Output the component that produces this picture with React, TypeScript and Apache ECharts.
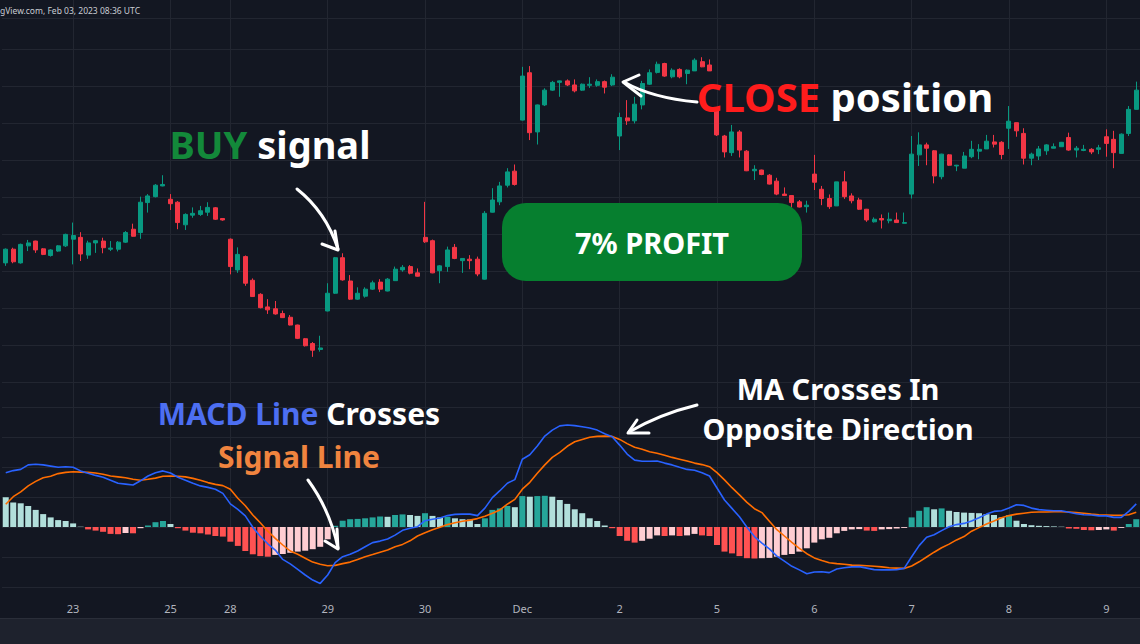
import React, { useEffect, useRef } from "react";
import * as echarts from "echarts";

// ---- time axis: trading days and 30-minute bars per day ----
const dayLabels = ["22", "23", "25", "28", "29", "30", "Dec", "2", "5", "6", "7", "8", "9"];
const barsPerDay = [9, 13, 8, 13, 13, 13, 13, 13, 13, 13, 13, 13, 5];

// ---- price candles ----
const opens = [
  68.22, 68.59, 68.22, 68.68, 68.81, 68.6, 68.42, 68.54, 68.68, 68.86, 68.91, 68.43, 68.76, 68.81, 68.59, 68.59, 68.78, 69.13, 69.04, 69.85,
  70.01, 70.3, 69.94, 69.86, 69.25, 69.51, 69.53, 69.59, 69.71, 69.42, 68.86, 68.03, 68.39, 67.75, 67.37, 67.03, 66.98, 66.85, 66.75, 66.54,
  66.17, 66.04, 65.88, 66.92, 67.4, 68.36, 67.73, 67.24, 67.32, 67.51, 67.7, 67.46, 67.74, 68.03, 68.12, 67.95, 68.91, 68.82, 68.01, 68.12,
  68.64, 68.28, 68.32, 68.32, 67.78, 69.59, 69.87, 70.32, 70.7, 72.08, 73.36, 71.76, 72.49, 72.89, 73.1, 73.14, 73.03, 72.89, 73.02, 73.02,
  73.12, 73.03, 71.65, 72.14, 72.06, 72.49, 73.05, 73.37, 73.61, 73.25, 73.45, 73.34, 73.41, 73.66, 73.57, 72.35, 71.65, 71.2, 71.76, 71.24,
  70.71, 70.73, 70.59, 70.43, 70.08, 70.04, 69.87, 69.74, 70.62, 70.21, 69.96, 69.76, 70.41, 70.03, 69.92, 69.67, 69.33, 69.42, 69.36, 69.38,
  69.29, 70.08, 71.14, 71.41, 71.25, 70.55, 71.14, 70.84, 70.78, 71.09, 71.24, 71.3, 71.49, 71.48, 71.86, 72.01, 71.72, 71.05, 71.11, 71.25,
  71.32, 71.36, 71.61, 71.27, 71.26, 71.29, 71.29, 71.63, 71.56, 71.18, 71.72, 72.37,
];
const closes = [
  68.59, 68.25, 68.72, 68.76, 68.57, 68.45, 68.57, 68.68, 68.99, 68.96, 68.46, 68.76, 68.82, 68.63, 68.62, 68.78, 69.04, 68.94, 69.86, 70.03,
  70.32, 70.34, 69.82, 69.31, 69.53, 69.56, 69.63, 69.72, 69.4, 69.38, 68.12, 68.45, 67.67, 67.31, 67.01, 66.95, 66.84, 66.74, 66.54, 66.18,
  65.98, 65.86, 65.92, 67.4, 68.36, 67.76, 67.24, 67.4, 67.51, 67.68, 67.51, 67.78, 68.05, 68.1, 67.94, 67.86, 68.79, 67.95, 68.14, 68.57,
  68.34, 68.34, 68.28, 67.92, 69.56, 69.92, 70.3, 70.68, 70.34, 73.27, 71.74, 72.49, 72.89, 73.1, 73.14, 73.03, 72.87, 73.05, 73.05, 73.12,
  72.97, 73.24, 72.15, 72.06, 72.51, 73.07, 73.36, 73.59, 73.27, 73.43, 73.25, 73.43, 73.7, 73.52, 73.41, 71.68, 71.22, 71.76, 71.27, 70.71,
  70.75, 70.61, 70.35, 70.08, 70.04, 69.85, 69.73, 69.78, 70.4, 69.96, 69.74, 70.41, 70.01, 69.9, 69.67, 69.38, 69.4, 69.38, 69.4, 69.31,
  69.31, 71.16, 71.41, 71.32, 70.57, 71.16, 70.86, 70.86, 71.11, 71.29, 71.29, 71.51, 71.43, 71.15, 72.05, 71.79, 71.05, 71.16, 71.3, 71.41,
  71.36, 71.48, 71.27, 71.32, 71.29, 71.22, 71.33, 71.45, 71.2, 71.7, 72.37, 72.89,
];
const lows = [
  68.14, 68.21, 68.2, 68.54, 68.49, 68.43, 68.39, 68.52, 68.65, 68.18, 68.27, 68.33, 68.49, 68.48, 68.54, 68.53, 68.76, 68.93, 68.87, 69.58,
  69.99, 70.29, 69.65, 69.13, 69.11, 69.44, 69.49, 69.49, 69.38, 69.36, 67.91, 67.95, 67.6, 67.3, 66.99, 66.84, 66.82, 66.73, 66.53, 66.16,
  65.96, 65.68, 65.82, 66.91, 67.38, 67.74, 67.22, 67.22, 67.28, 67.49, 67.43, 67.45, 67.74, 67.98, 67.91, 67.85, 68.76, 67.94, 67.67, 67.98,
  68.32, 67.95, 68.05, 67.86, 67.77, 69.58, 69.78, 70.26, 70.31, 72.07, 71.54, 71.42, 72.46, 72.87, 72.71, 73.0, 72.83, 72.87, 72.95, 72.98,
  72.8, 73.0, 71.27, 71.95, 71.99, 72.37, 73.03, 73.34, 73.25, 73.21, 73.21, 73.05, 73.41, 73.51, 73.41, 71.65, 71.07, 71.11, 71.07, 70.7,
  70.46, 70.59, 70.34, 70.05, 70.04, 69.71, 69.72, 69.58, 70.19, 69.78, 69.68, 69.76, 69.95, 69.83, 69.65, 69.33, 69.31, 69.15, 69.29, 69.31,
  69.29, 69.96, 70.84, 70.86, 70.37, 70.48, 70.84, 70.7, 70.78, 71.05, 71.02, 71.3, 71.34, 71.02, 71.3, 71.63, 70.88, 70.86, 71.0, 71.14,
  71.32, 71.36, 71.25, 71.07, 71.24, 71.16, 71.16, 71.09, 70.78, 71.18, 71.65, 72.37,
];
const highs = [
  68.61, 68.63, 68.74, 68.84, 68.82, 68.62, 68.59, 68.7, 69.01, 69.31, 69.05, 68.82, 68.84, 68.9, 68.81, 68.81, 69.08, 69.28, 70.01, 70.08,
  70.35, 70.59, 70.08, 69.89, 69.56, 69.72, 69.76, 69.86, 69.73, 69.43, 68.88, 68.64, 68.42, 67.8, 67.4, 67.24, 67.19, 66.93, 66.81, 66.55,
  66.19, 66.08, 66.25, 67.67, 68.38, 68.48, 67.89, 67.56, 67.56, 67.74, 67.78, 67.81, 68.12, 68.16, 68.16, 68.07, 69.87, 68.85, 68.16, 68.66,
  68.73, 68.35, 68.43, 68.39, 69.62, 70.24, 70.41, 70.78, 70.88, 73.52, 73.54, 72.5, 72.94, 73.14, 73.15, 73.18, 73.18, 73.07, 73.24, 73.18,
  73.15, 73.32, 72.28, 72.62, 72.71, 73.14, 73.45, 73.66, 73.63, 73.48, 73.48, 73.45, 73.75, 73.78, 73.72, 72.41, 71.68, 71.95, 71.81, 71.27,
  70.86, 70.74, 70.62, 70.52, 70.26, 70.04, 69.92, 69.9, 71.14, 70.3, 70.07, 70.41, 70.7, 70.1, 69.98, 69.68, 69.45, 69.53, 69.58, 69.58,
  69.58, 71.65, 71.75, 71.47, 71.27, 71.17, 71.16, 70.87, 71.22, 71.52, 71.43, 71.68, 71.68, 71.51, 72.46, 72.01, 71.86, 71.2, 71.38, 71.43,
  71.45, 71.49, 71.74, 71.38, 71.41, 71.32, 71.41, 71.83, 71.79, 71.72, 72.46, 73.12,
];

// ---- MACD (12, 26, 9) ----
const macdHist = [
  0.099, 0.082, 0.079, 0.07, 0.057, 0.043, 0.032, 0.023, 0.02, 0.012, 0.001, -0.008, -0.012, -0.016, -0.023, -0.024, -0.02, -0.021, -0.004, 0.005,
  0.016, 0.02, 0.01, -0.004, -0.012, -0.019, -0.021, -0.025, -0.03, -0.032, -0.049, -0.063, -0.08, -0.091, -0.097, -0.099, -0.093, -0.09, -0.086, -0.082,
  -0.079, -0.074, -0.066, -0.041, 0.004, 0.021, 0.026, 0.027, 0.029, 0.032, 0.035, 0.034, 0.04, 0.042, 0.04, 0.037, 0.046, 0.037, 0.032, 0.034,
  0.029, 0.026, 0.025, 0.01, 0.029, 0.057, 0.062, 0.07, 0.066, 0.103, 0.101, 0.103, 0.104, 0.101, 0.09, 0.077, 0.059, 0.046, 0.029, 0.02,
  0.005, -0.004, -0.03, -0.046, -0.052, -0.046, -0.039, -0.028, -0.03, -0.028, -0.03, -0.028, -0.023, -0.028, -0.03, -0.06, -0.082, -0.088, -0.097, -0.104,
  -0.105, -0.104, -0.103, -0.099, -0.093, -0.09, -0.082, -0.071, -0.052, -0.041, -0.036, -0.021, -0.013, -0.008, -0.007, -0.012, -0.013, -0.008, -0.007, -0.005,
  -0.003, 0.032, 0.054, 0.066, 0.059, 0.062, 0.054, 0.05, 0.048, 0.047, 0.046, 0.043, 0.04, 0.032, 0.04, 0.021, 0.01, 0.006, 0.004, 0.003,
  0.002, 0.001, -0.005, -0.006, -0.01, -0.011, -0.01, -0.008, -0.012, -0.003, 0.01, 0.026,
];
const macdLine = [
  0.181, 0.188, 0.192, 0.207, 0.209, 0.207, 0.203, 0.199, 0.201, 0.199, 0.187, 0.179, 0.172, 0.166, 0.156, 0.146, 0.143, 0.14, 0.154, 0.17,
  0.181, 0.187, 0.18, 0.166, 0.156, 0.146, 0.137, 0.132, 0.126, 0.112, 0.077, 0.059, 0.037, -0.001, -0.031, -0.056, -0.077, -0.108, -0.123, -0.141,
  -0.16, -0.177, -0.188, -0.16, -0.119, -0.099, -0.091, -0.08, -0.066, -0.052, -0.047, -0.04, -0.027, -0.011, -0.004, 0.001, 0.021, 0.026, 0.03, 0.038,
  0.042, 0.043, 0.043, 0.038, 0.063, 0.098, 0.121, 0.146, 0.158, 0.226, 0.241, 0.27, 0.303, 0.323, 0.337, 0.34, 0.338, 0.334, 0.33, 0.323,
  0.311, 0.301, 0.273, 0.243, 0.223, 0.219, 0.219, 0.22, 0.213, 0.207, 0.199, 0.192, 0.189, 0.181, 0.17, 0.13, 0.09, 0.062, 0.034, -0.001,
  -0.032, -0.054, -0.073, -0.097, -0.114, -0.131, -0.143, -0.156, -0.15, -0.149, -0.152, -0.14, -0.136, -0.133, -0.132, -0.137, -0.142, -0.143, -0.143, -0.142,
  -0.138, -0.099, -0.062, -0.034, -0.026, -0.012, 0.001, 0.008, 0.012, 0.02, 0.031, 0.043, 0.052, 0.054, 0.063, 0.074, 0.072, 0.063, 0.058, 0.056,
  0.054, 0.054, 0.049, 0.044, 0.041, 0.04, 0.037, 0.037, 0.032, 0.032, 0.052, 0.077,
];
const signalLine = [
  0.076, 0.101, 0.117, 0.137, 0.152, 0.164, 0.169, 0.178, 0.182, 0.184, 0.183, 0.182, 0.18, 0.176, 0.17, 0.167, 0.164, 0.159, 0.156, 0.159,
  0.163, 0.169, 0.17, 0.169, 0.167, 0.162, 0.156, 0.148, 0.142, 0.138, 0.126, 0.096, 0.071, 0.04, 0.014, -0.014, -0.038, -0.06, -0.08, -0.091,
  -0.104, -0.117, -0.124, -0.129, -0.128, -0.122, -0.117, -0.108, -0.099, -0.092, -0.084, -0.077, -0.066, -0.058, -0.046, -0.03, -0.019, -0.009, -0.001, 0.008,
  0.014, 0.019, 0.023, 0.028, 0.036, 0.046, 0.057, 0.076, 0.092, 0.126, 0.149, 0.179, 0.207, 0.232, 0.249, 0.269, 0.284, 0.292, 0.299, 0.302,
  0.303, 0.302, 0.292, 0.278, 0.266, 0.259, 0.251, 0.246, 0.239, 0.232, 0.226, 0.22, 0.213, 0.208, 0.201, 0.181, 0.157, 0.131, 0.107, 0.082,
  0.061, 0.048, 0.019, -0.009, -0.03, -0.051, -0.071, -0.089, -0.103, -0.112, -0.119, -0.122, -0.124, -0.127, -0.128, -0.129, -0.131, -0.133, -0.136, -0.137,
  -0.138, -0.13, -0.116, -0.1, -0.084, -0.069, -0.057, -0.043, -0.032, -0.014, -0.002, 0.01, 0.02, 0.031, 0.038, 0.043, 0.046, 0.049, 0.05, 0.05,
  0.051, 0.051, 0.05, 0.048, 0.046, 0.043, 0.041, 0.04, 0.039, 0.039, 0.041, 0.049,
];

// ---- build category axis ----
const categories: string[] = [];
const tickLabels: string[] = [];
dayLabels.forEach((d, di) => {
  for (let k = 0; k < barsPerDay[di]; k++) {
    categories.push(`${d}-${k}`);
    tickLabels.push(k === 0 && di > 0 ? d : "");
  }
});

const BG = "#131722";
const GRID = "#222631";
const UP = "#089981";
const DOWN = "#f23645";
const FONT = '"Noto Sans", "Open Sans", sans-serif';

function histColor(v: number, prev: number) {
  if (v >= 0) return v > prev ? "#26a69a" : "#b2dfdb";
  return v < prev ? "#ff5252" : "#ffcdd2";
}

export default function App() {
  const ref = useRef<HTMLDivElement>(null);
  useEffect(() => {
    const chart = echarts.init(ref.current!, null, { renderer: "svg" });
    const candleData = opens.map((o, i) => [o, closes[i], lows[i], highs[i]]);
    const histData = macdHist.map((v, i) => ({
      value: v,
      itemStyle: { color: histColor(v, i > 0 ? macdHist[i - 1] : v) },
    }));
    const isDayStart = (i: number) => tickLabels[i] !== "";
    const white = "#ffffff";
    const arrowStyle = { stroke: white, lineWidth: 3, fill: "none", lineCap: "round", lineJoin: "round" };

    chart.setOption({
      animation: false,
      backgroundColor: BG,
      grid: [
        { left: 2, right: 0, top: 18, height: 364 },
        { left: 2, right: 0, top: 407, height: 180 },
      ],
      xAxis: [
        {
          type: "category",
          gridIndex: 0,
          data: categories,
          axisLine: { show: false },
          axisTick: { show: false },
          axisLabel: { show: false },
          splitLine: { show: false },
        },
        {
          type: "category",
          gridIndex: 1,
          data: categories,
          offset: 11,
          axisLine: { show: false },
          axisTick: {
            show: true,
            inside: true,
            length: 580,
            alignWithLabel: true,
            interval: (i: number) => isDayStart(i),
            lineStyle: { color: GRID, width: 1 },
          },
          axisLabel: {
            interval: (i: number) => isDayStart(i),
            formatter: (_v: string, i: number) => tickLabels[i],
            color: "#b2b5be",
            fontSize: 11,
            fontFamily: FONT,
            margin: 5,
          },
          splitLine: { show: false },
        },
      ],
      yAxis: [
        {
          type: "value",
          gridIndex: 0,
          min: 65,
          max: 74.84,
          interval: 1,
          axisLine: { show: false },
          axisTick: { show: false },
          axisLabel: { show: false },
          splitLine: { lineStyle: { color: GRID, width: 1 } },
        },
        {
          type: "value",
          gridIndex: 1,
          min: -0.2,
          max: 0.4,
          interval: 0.1,
          axisLine: { show: false },
          axisTick: { show: false },
          axisLabel: { show: false },
          splitLine: { lineStyle: { color: GRID, width: 1 } },
        },
      ],
      series: [
        {
          type: "candlestick",
          xAxisIndex: 0,
          yAxisIndex: 0,
          data: candleData,
          barWidth: 4.5,
          itemStyle: { color: UP, color0: DOWN, borderColor: UP, borderColor0: DOWN, borderWidth: 1 },
        },
        {
          type: "bar",
          xAxisIndex: 1,
          yAxisIndex: 1,
          data: histData,
          barWidth: 6,
        },
        {
          type: "line",
          xAxisIndex: 1,
          yAxisIndex: 1,
          data: signalLine,
          showSymbol: false,
          smooth: false,
          lineStyle: { color: "#ff6d00", width: 1.6 },
          z: 3,
        },
        {
          type: "line",
          xAxisIndex: 1,
          yAxisIndex: 1,
          data: macdLine,
          showSymbol: false,
          smooth: false,
          lineStyle: { color: "#2962ff", width: 1.6 },
          z: 4,
        },
      ],
      graphic: [
        { type: "rect", z: 50, shape: { x: 0, y: 618, width: 1140, height: 26 }, style: { fill: "#1e222d" } },
        { type: "line", z: 50, shape: { x1: 0, y1: 618.5, x2: 1140, y2: 618.5 }, style: { stroke: "#2a2e39", lineWidth: 1 } },
        {
          type: "text",
          z: 50,
          x: 0,
          y: 10,
          style: { text: "gView.com, Feb 03, 2023 08:36 UTC", fill: "#c9ccd3", font: `8.5px ${FONT}`, verticalAlign: "middle", align: "left" },
        },
        // profit box
        { type: "rect", z: 60, shape: { x: 502, y: 203, width: 300, height: 78, r: 24 }, style: { fill: "#067f2f" } },
        {
          type: "text",
          z: 61,
          x: 652,
          y: 242,
          style: { text: "7% PROFIT", fill: white, font: `bold 29px ${FONT}`, align: "center", verticalAlign: "middle" },
        },
        // BUY signal
        {
          type: "text",
          z: 61,
          x: 270,
          y: 144,
          style: {
            text: "{g|BUY} {w|signal}",
            font: `bold 38px ${FONT}`,
            fill: white,
            align: "center",
            verticalAlign: "middle",
            rich: {
              g: { fill: "#13893a", font: `bold 38px ${FONT}` },
              w: { fill: white, font: `bold 38px ${FONT}` },
            },
          },
        },
        // CLOSE position
        {
          type: "text",
          z: 61,
          x: 845,
          y: 96,
          style: {
            text: "{r|CLOSE} {w|position}",
            font: `bold 40px ${FONT}`,
            fill: white,
            align: "center",
            verticalAlign: "middle",
            rich: {
              r: { fill: "#ff1c1c", font: `bold 40px ${FONT}` },
              w: { fill: white, font: `bold 40px ${FONT}` },
            },
          },
        },
        // MACD annotation
        {
          type: "text",
          z: 61,
          x: 299,
          y: 413,
          style: {
            text: "{b|MACD Line} {w|Crosses}",
            font: `bold 30px ${FONT}`,
            fill: white,
            align: "center",
            verticalAlign: "middle",
            rich: {
              b: { fill: "#4d6ff2", font: `bold 30px ${FONT}` },
              w: { fill: white, font: `bold 30px ${FONT}` },
            },
          },
        },
        {
          type: "text",
          z: 61,
          x: 299,
          y: 456,
          style: { text: "Signal Line", fill: "#f0843f", font: `bold 30px ${FONT}`, align: "center", verticalAlign: "middle" },
        },
        {
          type: "text",
          z: 61,
          x: 838,
          y: 388,
          style: { text: "MA Crosses In", fill: white, font: `bold 29px ${FONT}`, align: "center", verticalAlign: "middle" },
        },
        {
          type: "text",
          z: 61,
          x: 838,
          y: 428,
          style: { text: "Opposite Direction", fill: white, font: `bold 29px ${FONT}`, align: "center", verticalAlign: "middle" },
        },
        // arrows
        { type: "bezierCurve", z: 62, shape: { x1: 297, y1: 189, cpx1: 326, cpy1: 212, x2: 338, y2: 249 }, style: arrowStyle },
        { type: "polyline", z: 62, shape: { points: [[322, 244], [338, 250], [335, 231]] }, style: arrowStyle },
        { type: "bezierCurve", z: 62, shape: { x1: 697, y1: 102, cpx1: 652, cpy1: 98, x2: 624, y2: 82 }, style: arrowStyle },
        { type: "polyline", z: 62, shape: { points: [[639, 75], [623, 82], [641, 96]] }, style: arrowStyle },
        { type: "bezierCurve", z: 62, shape: { x1: 308, y1: 480, cpx1: 330, cpy1: 510, x2: 338, y2: 548 }, style: arrowStyle },
        { type: "polyline", z: 62, shape: { points: [[325, 541], [338, 549], [337, 529]] }, style: arrowStyle },
        { type: "bezierCurve", z: 62, shape: { x1: 697, y1: 405, cpx1: 660, cpy1: 414, x2: 629, y2: 432 }, style: arrowStyle },
        { type: "polyline", z: 62, shape: { points: [[637, 420], [628, 433], [649, 433]] }, style: arrowStyle },
      ],
    });
    return () => chart.dispose();
  }, []);
  return (
    <div
      ref={ref}
      style={{ position: "fixed", left: 0, top: 0, width: 1140, height: 644, background: BG }}
    />
  );
}
